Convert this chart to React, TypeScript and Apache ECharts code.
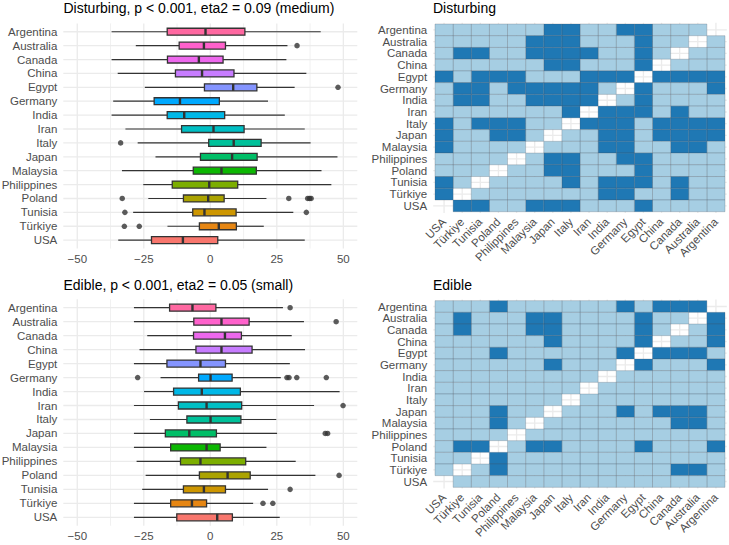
import React, { useEffect, useRef } from "react";
import * as echarts from "echarts";

// Countries, top to bottom on every panel
const countries = [
  "Argentina", "Australia", "Canada", "China", "Egypt", "Germany", "India", "Iran",
  "Italy", "Japan", "Malaysia", "Philippines", "Poland", "Tunisia", "Türkiye", "USA",
];

const valueTicks = [-50, -25, 0, 25, 50];
const minorTicks = [-37.5, -12.5, 12.5, 37.5];

// Disturbing: five-number summaries per country
const disturbingLow = [-37.1, -28.0, -37.1, -34.8, -24.6, -36.5, -37.1, -31.9, -27.3, -20.6, -33.2, -25.2, -23.3, -29.0, -16.1, -34.6];
const disturbingQ1 = [-16.2, -11.7, -16.1, -13.1, -2.2, -21.1, -16.2, -10.8, -0.6, -3.7, -6.4, -14.3, -10.1, -6.6, -4.1, -22.1];
const disturbingMedian = [-1.8, -2.4, -4.3, -3.1, 8.6, -11.4, -9.8, 1.2, 8.8, 8.2, 4.2, -0.4, -0.8, -2.2, 3.2, -10.3];
const disturbingQ3 = [13.0, 5.7, 4.8, 8.9, 17.5, 3.4, 5.4, 12.7, 19.1, 17.6, 17.3, 10.3, 5.2, 9.7, 9.8, 2.8];
const disturbingHigh = [41.5, 29.0, 28.6, 36.1, 31.7, 21.7, 28.0, 35.5, 37.7, 47.8, 41.8, 45.5, 21.1, 31.2, 20.1, 35.5];
const disturbingOutliers: [string, number][] = [
  ["Australia", 32.6], ["Egypt", 48.0], ["Italy", -33.7],
  ["Poland", -33.1], ["Poland", 29.5], ["Poland", 36.6], ["Poland", 37.3], ["Poland", 37.9],
  ["Tunisia", -32.1], ["Tunisia", 36.1], ["Türkiye", -32.3], ["Türkiye", -26.7],
];

// Edible: five-number summaries per country
const edibleLow = [-28.7, -28.7, -23.7, -26.6, -28.7, -18.7, -24.9, -28.7, -22.7, -28.7, -28.7, -27.7, -24.3, -25.6, -28.7, -28.7];
const edibleQ1 = [-15.3, -6.2, -6.3, -5.4, -16.3, -4.4, -13.8, -12.0, -8.8, -16.9, -14.9, -11.2, -4.1, -10.1, -14.9, -12.6];
const edibleMedian = [-6.7, 4.2, 5.5, 4.2, -3.7, 0.1, -3.2, -1.4, 0.1, -7.9, -1.4, -3.7, 6.5, -2.4, -6.9, 2.6];
const edibleQ3 = [2.1, 14.6, 11.7, 15.7, 5.7, 8.2, 11.3, 11.8, 11.5, 2.3, 3.7, 13.3, 15.0, 5.7, -1.4, 8.3];
const edibleHigh = [27.3, 35.2, 30.6, 35.6, 29.9, 26.5, 48.6, 39.0, 24.8, 25.1, 21.1, 32.1, 39.5, 21.7, 16.1, 26.1];
const edibleOutliers: [string, number][] = [
  ["Argentina", 30.0], ["Australia", 47.3],
  ["Germany", -27.3], ["Germany", 28.8], ["Germany", 29.6], ["Germany", 32.5], ["Germany", 43.6],
  ["Iran", 49.9], ["Japan", 43.2], ["Japan", 44.1], ["Poland", 48.4],
  ["Tunisia", 30.0], ["Türkiye", 19.8], ["Türkiye", 23.5],
];

// Pairs of countries that differ significantly
const disturbingPairs: [string, string][] = [
  ["Argentina", "Japan"], ["Argentina", "Italy"], ["Argentina", "Germany"], ["Argentina", "Egypt"],
  ["Australia", "Malaysia"], ["Australia", "Japan"], ["Australia", "Italy"], ["Australia", "Egypt"],
  ["Canada", "Türkiye"], ["Canada", "Tunisia"], ["Canada", "Malaysia"], ["Canada", "Japan"],
  ["Canada", "Italy"], ["Canada", "Iran"], ["Canada", "Egypt"],
  ["China", "Japan"], ["China", "Italy"], ["China", "Egypt"],
  ["Egypt", "USA"], ["Egypt", "Tunisia"], ["Egypt", "Poland"], ["Egypt", "Philippines"],
  ["Egypt", "Iran"], ["Egypt", "India"], ["Egypt", "Germany"],
  ["Germany", "Türkiye"], ["Germany", "Tunisia"], ["Germany", "Philippines"], ["Germany", "Malaysia"],
  ["Germany", "Japan"], ["Germany", "Italy"], ["Germany", "Iran"],
  ["India", "Türkiye"], ["India", "Tunisia"], ["India", "Malaysia"], ["India", "Japan"],
  ["India", "Italy"], ["India", "Iran"],
  ["Iran", "Italy"],
  ["Italy", "USA"], ["Italy", "Tunisia"], ["Italy", "Poland"], ["Italy", "Philippines"],
  ["Japan", "USA"], ["Japan", "Poland"], ["Japan", "Philippines"],
  ["Malaysia", "USA"], ["Tunisia", "USA"], ["Türkiye", "USA"],
];
const ediblePairs: [string, string][] = [
  ["Argentina", "Poland"], ["Argentina", "Germany"], ["Argentina", "China"],
  ["Argentina", "Canada"], ["Argentina", "Australia"],
  ["Australia", "Türkiye"], ["Australia", "Malaysia"], ["Australia", "Japan"], ["Australia", "Egypt"],
  ["Canada", "Türkiye"], ["Canada", "Malaysia"], ["Canada", "Japan"], ["Canada", "Egypt"],
  ["China", "Japan"], ["China", "Egypt"],
  ["Egypt", "Poland"], ["Egypt", "Germany"],
  ["Germany", "Japan"], ["Japan", "Poland"], ["Malaysia", "Poland"],
  ["Poland", "Türkiye"], ["Poland", "Tunisia"],
];

const FONT = '"Liberation Sans", Arial, Helvetica, sans-serif';
const AXIS_TEXT = "#4D4D4D";
const GRID_LINE = "#EBEBEB";
const BOX_LINE = "#333333";
const SIG_DARK = "#1F78B4";
const SIG_LIGHT = "#A6CEE3";

// HCL -> sRGB hex (CIE-LUV, D65), the default discrete hue palette
function hcl(h: number, c: number, l: number): string {
  const hr = (h * Math.PI) / 180;
  const U = c * Math.cos(hr);
  const V = c * Math.sin(hr);
  const Xn = 95.047, Yn = 100, Zn = 108.883;
  const den = Xn + 15 * Yn + 3 * Zn;
  const un = (4 * Xn) / den, vn = (9 * Yn) / den;
  const Y = l > 8 ? Yn * Math.pow((l + 16) / 116, 3) : (Yn * l) / 903.3;
  const u = U / (13 * l) + un;
  const v = V / (13 * l) + vn;
  const X = (9 * Y * u) / (4 * v);
  const Z = ((9 * Y) / v - X - 15 * Y) / 3;
  const x = X / 100, y = Y / 100, z = Z / 100;
  const lin = [
    3.2404542 * x - 1.5371385 * y - 0.4985314 * z,
    -0.969266 * x + 1.8760108 * y + 0.041556 * z,
    0.0556434 * x - 0.2040259 * y + 1.0572252 * z,
  ];
  return (
    "#" +
    lin
      .map((t) => {
        const g = t <= 0.0031308 ? 12.92 * t : 1.055 * Math.pow(t, 1 / 2.4) - 0.055;
        const n = Math.round(Math.min(1, Math.max(0, g)) * 255);
        return n.toString(16).padStart(2, "0");
      })
      .join("")
  );
}

// USA takes the first hue, Argentina the last
const boxColors = countries.map((_, i) => hcl(15 + 22.5 * (countries.length - 1 - i), 100, 65));

const idx = (name: string) => countries.indexOf(name);

function gridRender(params: any, api: any) {
  const cs = params.coordSys;
  const kind = api.value(2);
  const w = api.value(3);
  if (kind === 0) {
    const x = api.coord([api.value(0), api.value(1)])[0];
    return {
      type: "line",
      silent: true,
      shape: { x1: x, y1: cs.y, x2: x, y2: cs.y + cs.height },
      style: { stroke: GRID_LINE, lineWidth: w },
    };
  }
  const y = api.coord([api.value(0), api.value(1)])[1];
  return {
    type: "line",
    silent: true,
    shape: { x1: cs.x, y1: y, x2: cs.x + cs.width, y2: y },
    style: { stroke: GRID_LINE, lineWidth: w },
  };
}

function boxRender(params: any, api: any) {
  const i = api.value(0);
  const xs = [1, 2, 3, 4, 5].map((d) => api.coord([api.value(d), i])[0]);
  const yc = api.coord([0, i])[1];
  const h = Math.abs(api.size([0, 0.5])[1]);
  const [xl, xq1, xm, xq3, xh] = xs;
  return {
    type: "group",
    children: [
      { type: "line", shape: { x1: xl, y1: yc, x2: xq1, y2: yc }, style: { stroke: BOX_LINE, lineWidth: 1.2 } },
      { type: "line", shape: { x1: xq3, y1: yc, x2: xh, y2: yc }, style: { stroke: BOX_LINE, lineWidth: 1.2 } },
      {
        type: "rect",
        shape: { x: xq1, y: yc - h / 2, width: xq3 - xq1, height: h },
        style: { fill: boxColors[i], stroke: BOX_LINE, lineWidth: 1.3 },
      },
      { type: "line", shape: { x1: xm, y1: yc - h / 2, x2: xm, y2: yc + h / 2 }, style: { stroke: BOX_LINE, lineWidth: 2.4 } },
    ],
  };
}

function tileRender(params: any, api: any) {
  const p = api.coord([api.value(0), api.value(1)]);
  const sz = api.size([1, 1]);
  const w = Math.abs(sz[0]), h = Math.abs(sz[1]);
  return {
    type: "rect",
    shape: { x: p[0] - w / 2, y: p[1] - h / 2, width: w, height: h },
    style: { fill: api.value(2) ? SIG_DARK : SIG_LIGHT, stroke: "rgba(70,80,90,0.35)", lineWidth: 0.7 },
  };
}

const boxGridLines = [
  ...valueTicks.map((v) => [v, 0, 0, 1.3]),
  ...minorTicks.map((v) => [v, 0, 0, 0.7]),
  ...countries.map((_, i) => [0, i, 1, 1.3]),
];
const heatGridLines = [
  ...countries.map((_, i) => [i, 0, 0, 1.3]),
  ...countries.map((_, i) => [0, i, 1, 1.3]),
];

function boxData(lo: number[], q1: number[], med: number[], q3: number[], hi: number[]) {
  return countries.map((_, i) => [i, lo[i], q1[i], med[i], q3[i], hi[i]]);
}

function tileData(pairs: [string, string][]) {
  const sig = new Set(pairs.flatMap(([a, b]) => [a + "|" + b, b + "|" + a]));
  const out: number[][] = [];
  countries.forEach((r, ri) =>
    countries.forEach((c, ci) => {
      if (ri !== ci) out.push([ci, ri, sig.has(r + "|" + c) ? 1 : 0]);
    })
  );
  return out;
}

const labelStyle = {
  color: AXIS_TEXT,
  fontSize: 11.5,
  fontFamily: FONT,
  showMinLabel: true,
  showMaxLabel: true,
  hideOverlap: false,
};
const positions = countries.map((_, i) => i);
const minusFmt = (v: number) => (v < 0 ? "\u2212" + Math.abs(v) : String(v));

function valueXAxis(gridIndex: number) {
  return {
    type: "value",
    gridIndex,
    min: -55.25,
    max: 55.25,
    axisLine: { show: false },
    axisTick: { show: false },
    splitLine: { show: false },
    axisLabel: { ...labelStyle, margin: 4, customValues: valueTicks, formatter: minusFmt },
  };
}
// rows: which country rows this axis labels (tight rows get two label axes)
function countryYAxis(gridIndex: number, rows: number[]) {
  return {
    type: "value",
    gridIndex,
    position: "left",
    min: -0.6,
    max: 15.6,
    inverse: true,
    axisLine: { show: false },
    axisTick: { show: false },
    splitLine: { show: false },
    axisLabel: { ...labelStyle, margin: 6, customValues: rows, formatter: (v: number) => countries[Math.round(v)] },
  };
}
function countryXAxis(gridIndex: number) {
  return {
    type: "value",
    gridIndex,
    min: -0.6,
    max: 15.6,
    inverse: true,
    axisLine: { show: false },
    axisTick: { show: false },
    splitLine: { show: false },
    axisLabel: {
      ...labelStyle,
      margin: 7,
      rotate: 45,
      customValues: positions,
      formatter: (v: number) => countries[Math.round(v)],
    },
  };
}

const evenRows = positions.filter((i) => i % 2 === 0);
const oddRows = positions.filter((i) => i % 2 === 1);

const titleStyle = { fontSize: 14, fontWeight: "normal", color: "#000000", fontFamily: FONT };

const option = {
  animation: false,
  backgroundColor: "#ffffff",
  title: [
    { text: "Disturbing, p < 0.001, eta2 = 0.09 (medium)", left: 63.5, top: 1, padding: 0, textStyle: titleStyle },
    { text: "Disturbing", left: 433, top: 1, padding: 0, textStyle: titleStyle },
    { text: "Edible, p < 0.001, eta2 = 0.05 (small)", left: 63.5, top: 277.5, padding: 0, textStyle: titleStyle },
    { text: "Edible", left: 433, top: 277.5, padding: 0, textStyle: titleStyle },
  ],
  grid: [
    { left: 63.3, top: 23.4, width: 294, height: 225.1, outerBoundsMode: "none" },
    { left: 433.2, top: 22.8, width: 293.6, height: 190.1, outerBoundsMode: "none" },
    { left: 63.3, top: 299.3, width: 294, height: 226.4, outerBoundsMode: "none" },
    { left: 433.2, top: 299.5, width: 293.6, height: 189, outerBoundsMode: "none" },
  ],
  xAxis: [valueXAxis(0), countryXAxis(1), valueXAxis(2), countryXAxis(3)],
  yAxis: [
    countryYAxis(0, positions),
    countryYAxis(1, evenRows),
    countryYAxis(2, positions),
    countryYAxis(3, evenRows),
    countryYAxis(1, oddRows),
    countryYAxis(3, oddRows),
  ],
  series: [
    // Disturbing boxplot
    { type: "custom", xAxisIndex: 0, yAxisIndex: 0, z: 1, silent: true, renderItem: gridRender, encode: { x: 0, y: 1 }, data: boxGridLines },
    {
      type: "custom", xAxisIndex: 0, yAxisIndex: 0, z: 2, renderItem: boxRender,
      encode: { x: [1, 2, 3, 4, 5], y: 0 },
      data: boxData(disturbingLow, disturbingQ1, disturbingMedian, disturbingQ3, disturbingHigh),
    },
    {
      type: "scatter", xAxisIndex: 0, yAxisIndex: 0, z: 3, symbolSize: 5.5,
      itemStyle: { color: BOX_LINE },
      data: disturbingOutliers.map(([c, v]) => [v, idx(c)]),
    },
    // Disturbing pairwise tiles
    { type: "custom", xAxisIndex: 1, yAxisIndex: 1, z: 1, silent: true, renderItem: gridRender, encode: { x: 0, y: 1 }, data: heatGridLines },
    { type: "custom", xAxisIndex: 1, yAxisIndex: 1, z: 2, renderItem: tileRender, encode: { x: 0, y: 1 }, data: tileData(disturbingPairs) },
    // Edible boxplot
    { type: "custom", xAxisIndex: 2, yAxisIndex: 2, z: 1, silent: true, renderItem: gridRender, encode: { x: 0, y: 1 }, data: boxGridLines },
    {
      type: "custom", xAxisIndex: 2, yAxisIndex: 2, z: 2, renderItem: boxRender,
      encode: { x: [1, 2, 3, 4, 5], y: 0 },
      data: boxData(edibleLow, edibleQ1, edibleMedian, edibleQ3, edibleHigh),
    },
    {
      type: "scatter", xAxisIndex: 2, yAxisIndex: 2, z: 3, symbolSize: 5.5,
      itemStyle: { color: BOX_LINE },
      data: edibleOutliers.map(([c, v]) => [v, idx(c)]),
    },
    // Edible pairwise tiles
    { type: "custom", xAxisIndex: 3, yAxisIndex: 3, z: 1, silent: true, renderItem: gridRender, encode: { x: 0, y: 1 }, data: heatGridLines },
    { type: "custom", xAxisIndex: 3, yAxisIndex: 3, z: 2, renderItem: tileRender, encode: { x: 0, y: 1 }, data: tileData(ediblePairs) },
  ],
};

export default function App() {
  const ref = useRef<HTMLDivElement>(null);
  useEffect(() => {
    if (!ref.current) return;
    const chart = echarts.init(ref.current, null, { renderer: "svg" });
    chart.setOption(option as any);
    return () => chart.dispose();
  }, []);
  return (
    <div
      ref={ref}
      style={{ position: "absolute", left: 0, top: 0, width: 729, height: 545, background: "#ffffff" }}
    />
  );
}
